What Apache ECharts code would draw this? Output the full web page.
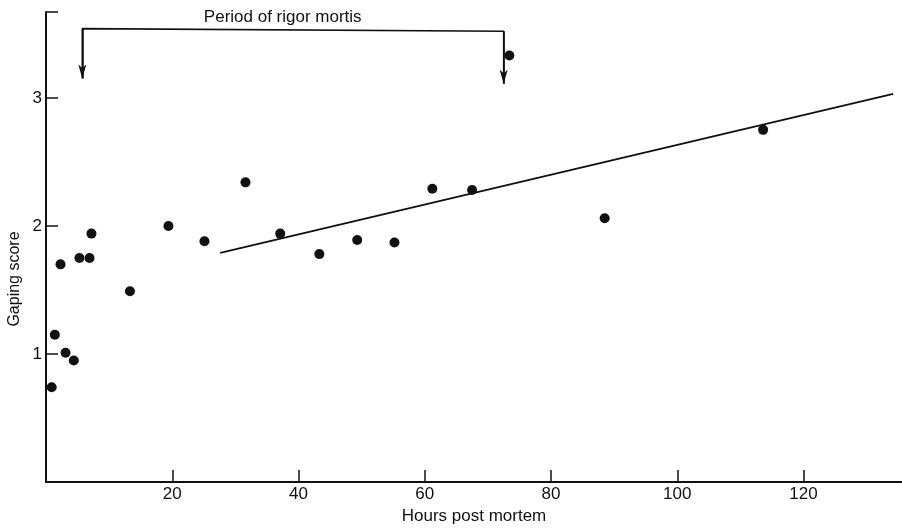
<!DOCTYPE html>
<html>
<head>
<meta charset="utf-8">
<script src="https://cdn.jsdelivr.net/npm/echarts@6/dist/echarts.min.js"></script>
<style>
html,body{margin:0;padding:0;background:#fff;}
#chart{width:902px;height:530px;}
</style>
</head>
<body>
<div id="chart"></div>
<script>
// Observations: hours post mortem and gaping score
const hours  = [0.9, 1.4, 2.3, 3.1, 4.4, 5.3, 6.9, 7.2, 13.3, 19.4, 25.1, 31.6, 37.1, 43.3, 49.3, 55.2, 61.2, 67.5, 73.4, 88.5, 113.6];
const scores = [0.74, 1.15, 1.70, 1.01, 0.95, 1.75, 1.75, 1.94, 1.49, 2.00, 1.88, 2.34, 1.94, 1.78, 1.89, 1.87, 2.29, 2.28, 3.33, 2.06, 2.75];
// Fitted line end points
const fitX = [27.6, 134.2];
const fitY = [1.79, 3.03];
// Rigor mortis bracket (start, end of period)
const bracketX = [5.75, 5.75, 72.5, 72.5];
const bracketY = [3.15, 3.54, 3.52, 3.11];
const bracketLabel = 'Period of rigor mortis';
// Axis ticks
const xTickValues = [20, 40, 60, 80, 100, 120];
const yTickValues = [1, 2, 3, 3.67];
const yLabelValues = [1, 2, 3];
const xName = 'Hours post mortem';
const yName = 'Gaping score';

const ink = '#111';
const font = 'Liberation Sans, Arial, sans-serif';

const chart = echarts.init(document.getElementById('chart'), null, {renderer: 'canvas'});
chart.setOption({
  backgroundColor: '#fff',
  animation: false,
  grid: {left: 46, right: 0, top: 12, bottom: 44, containLabel: false},
  xAxis: {
    type: 'value', min: 0, max: 135.6, interval: 20,
    name: xName, nameLocation: 'middle', nameGap: 25,
    nameTextStyle: {color: ink, fontSize: 17, fontFamily: font, verticalAlign: 'top'},
    axisLine: {show: true, onZero: false, lineStyle: {color: ink, width: 2}},
    axisTick: {show: true, inside: true, length: 12, customValues: xTickValues, lineStyle: {color: ink, width: 1.5}},
    axisLabel: {color: ink, fontSize: 17, fontFamily: font, margin: 4, customValues: xTickValues},
    splitLine: {show: false}
  },
  yAxis: {
    type: 'value', min: 0, max: 3.67,
    axisLine: {show: true, onZero: false, lineStyle: {color: ink, width: 2}},
    axisTick: {show: true, inside: true, length: 12, customValues: yTickValues, lineStyle: {color: ink, width: 1.5}},
    axisLabel: {color: ink, fontSize: 17, fontFamily: font, margin: 4, customValues: yLabelValues},
    splitLine: {show: false}
  },
  graphic: [{
    type: 'text', x: 15, y: 279, rotation: Math.PI / 2,
    style: {text: yName, fill: ink, font: '16px ' + font, align: 'center', verticalAlign: 'middle'}
  }],
  series: [
    {
      type: 'scatter', name: 'Gaping score',
      data: hours.map((h, i) => [h, scores[i]]),
      symbol: 'circle', symbolSize: 10,
      itemStyle: {color: ink, opacity: 1},
      z: 5
    },
    {
      type: 'line', name: 'Fit',
      data: fitX.map((x, i) => [x, fitY[i]]),
      showSymbol: false, symbol: 'none',
      lineStyle: {color: ink, width: 1.8}
    },
    {
      type: 'line', name: 'Rigor',
      data: bracketX.map((x, i) => [x, bracketY[i]]),
      showSymbol: false, symbol: 'none',
      lineStyle: {color: ink, width: 1.6},
      markLine: {
        silent: true, animation: false,
        symbol: ['none', 'arrow'], symbolSize: [6, 14],
        lineStyle: {color: ink, width: 1.6, type: 'solid'},
        label: {show: false},
        data: [
          [{coord: [bracketX[0], bracketY[1]]}, {coord: [bracketX[0], bracketY[0]]}],
          [{coord: [bracketX[3], bracketY[2]]}, {coord: [bracketX[3], bracketY[3]]}]
        ]
      },
      markPoint: {
        silent: true, symbol: 'rect', symbolSize: 0,
        label: {show: true, color: ink, fontSize: 17, fontFamily: font, position: 'inside', formatter: bracketLabel},
        data: [{coord: [37.5, 3.63]}]
      }
    }
  ]
});
</script>
</body>
</html>
